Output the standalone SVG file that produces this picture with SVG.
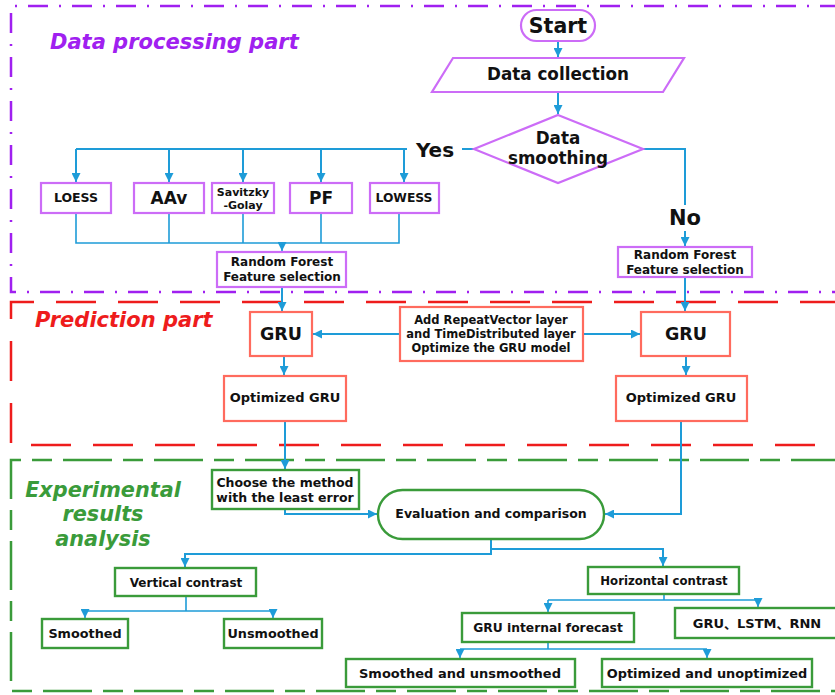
<svg xmlns="http://www.w3.org/2000/svg" width="835" height="695" viewBox="0 0 835 695">
<defs>
<marker id="ah" viewBox="0 0 10 10" refX="10" refY="5" markerWidth="9" markerHeight="9" markerUnits="userSpaceOnUse" orient="auto">
<path d="M0 0 L10 5 L0 10 Z" fill="#1E9CD8"/>
</marker>
<style>
text{font-family:"DejaVu Sans","Noto Sans CJK SC","Liberation Sans",sans-serif;font-weight:bold;fill:#111;text-anchor:middle}
.pn{fill:#fff;stroke:#CC6CF7;stroke-width:2.2}
.rn{fill:#fff;stroke:#FF6B5E;stroke-width:2.2}
.gn{fill:#fff;stroke:#3A9B3A;stroke-width:2.4}
.c{fill:none;stroke:#1E9CD8;stroke-width:2}
.t{fill:none;stroke:#1E9CD8;stroke-width:1.6}
.title{font-style:italic;font-size:21px;text-anchor:start}
</style>
</defs>

<g id="frames">
<path d="M840 6 H11 V292 H840" fill="none" stroke="#A020F0" stroke-width="2.5" stroke-dasharray="20 11 2 11"/>
<path d="M840 302 H11 V445 H840" fill="none" stroke="#EE1C1C" stroke-width="2.5" stroke-dasharray="40 22"/>
<path d="M840 460 H11 V691 H840" fill="none" stroke="#3A9B3A" stroke-width="2.5" stroke-dasharray="49 11 20 11"/>
<text class="title" x="50" y="49" style="fill:#A020F0">Data processing part</text>
<text class="title" x="35" y="327" style="fill:#EE1C1C">Prediction part</text>
<text x="103" y="497" style="fill:#3A9B3A;font-style:italic;font-size:20.8px">Experimental</text>
<text x="103" y="521" style="fill:#3A9B3A;font-style:italic;font-size:20.8px">results</text>
<text x="103" y="546" style="fill:#3A9B3A;font-style:italic;font-size:20.8px">analysis</text>
</g>

<g id="connectors">
<path class="c" d="M558 41 V57" marker-end="url(#ah)"/>
<path class="c" d="M558 92 V114" marker-end="url(#ah)"/>
<path class="c" d="M474 149 H462"/>
<path class="c" d="M407 149 H76"/>
<path class="c" d="M76 149 V182" marker-end="url(#ah)"/>
<path class="c" d="M169 149 V182" marker-end="url(#ah)"/>
<path class="c" d="M243 149 V182" marker-end="url(#ah)"/>
<path class="c" d="M321 149 V182" marker-end="url(#ah)"/>
<path class="c" d="M404 149 V182" marker-end="url(#ah)"/>
<path class="t" d="M76 213 V243 H399 V213 M169 213 V243 M243 213 V243 M321 213 V243"/>
<path class="t" d="M282 243 V251" marker-end="url(#ah)"/>
<path class="c" d="M643 149 H685 V205"/>
<path class="c" d="M685 231 V246" marker-end="url(#ah)"/>
<path class="c" d="M282 287 V311" marker-end="url(#ah)"/>
<path class="c" d="M685 277 V311" marker-end="url(#ah)"/>
<path class="c" d="M400 334 H313" marker-end="url(#ah)"/>
<path class="c" d="M583 334 H640" marker-end="url(#ah)"/>
<path class="c" d="M284 357 V375" marker-end="url(#ah)"/>
<path class="c" d="M686 357 V375" marker-end="url(#ah)"/>
<path class="c" d="M285 421 V469" marker-end="url(#ah)"/>
<path class="c" d="M285 510 V514 H377" marker-end="url(#ah)"/>
<path class="c" d="M681 421 V514 H605" marker-end="url(#ah)"/>
<path class="c" d="M491 539 V554 H185 V567" marker-end="url(#ah)"/>
<path class="c" d="M491 549 H663 V566" marker-end="url(#ah)"/>
<path class="t" d="M186 596 V611 M85 611 H273"/>
<path class="t" d="M85 611 V618" marker-end="url(#ah)"/>
<path class="t" d="M273 611 V618" marker-end="url(#ah)"/>
<path class="t" d="M664 594 V600 M548 600 H758"/>
<path class="t" d="M548 600 V612" marker-end="url(#ah)"/>
<path class="t" d="M758 600 V607" marker-end="url(#ah)"/>
<path class="t" d="M548 642 V649 M460 649 H707"/>
<path class="t" d="M460 649 V658" marker-end="url(#ah)"/>
<path class="t" d="M707 649 V658" marker-end="url(#ah)"/>
<text x="435" y="157" style="font-size:20px">Yes</text>
<text x="685" y="225" style="font-size:21px">No</text>
</g>

<g id="start">
<rect class="pn" x="521" y="10" width="74" height="31" rx="15.5"/>
<text x="558" y="33" style="font-size:20.5px">Start</text>
</g>
<g id="data-collection">
<polygon class="pn" points="453,58 684,58 663,92 432,92"/>
<text x="558" y="80" style="font-size:16.8px">Data collection</text>
</g>
<g id="data-smoothing">
<polygon class="pn" points="558,115 643,149 558,183 474,149"/>
<text x="558" y="144" style="font-size:16.8px">Data</text>
<text x="558" y="164" style="font-size:16.8px">smoothing</text>
</g>
<g id="loess">
<rect class="pn" x="41" y="183" width="70" height="30"/>
<text x="76" y="202" style="font-size:12.5px">LOESS</text>
</g>
<g id="aav">
<rect class="pn" x="134" y="183" width="70" height="30"/>
<text x="169" y="204" style="font-size:17px">AAv</text>
</g>
<g id="savitzky-golay">
<rect class="pn" x="212" y="183" width="62" height="30"/>
<text x="243" y="196" style="font-size:11px">Savitzky</text>
<text x="243" y="209" style="font-size:11px">-Golay</text>
</g>
<g id="pf">
<rect class="pn" x="290" y="183" width="62" height="30"/>
<text x="321" y="204" style="font-size:17px">PF</text>
</g>
<g id="lowess">
<rect class="pn" x="370" y="183" width="69" height="30"/>
<text x="404" y="202" style="font-size:12.3px">LOWESS</text>
</g>
<g id="rf-left">
<rect class="pn" x="217" y="252" width="129" height="35"/>
<text x="282" y="266" style="font-size:12px">Random Forest</text>
<text x="282" y="281" style="font-size:12px">Feature selection</text>
</g>
<g id="rf-right">
<rect class="pn" x="618" y="247" width="134" height="30"/>
<text x="685" y="259" style="font-size:12px">Random Forest</text>
<text x="685" y="274" style="font-size:12px">Feature selection</text>
</g>
<g id="gru-left">
<rect class="rn" x="250" y="312" width="62" height="44"/>
<text x="281" y="340" style="font-size:17.5px">GRU</text>
</g>
<g id="gru-right">
<rect class="rn" x="641" y="312" width="89" height="44"/>
<text x="686" y="340" style="font-size:17.5px">GRU</text>
</g>
<g id="optimize">
<rect class="rn" x="400" y="307" width="183" height="54"/>
<text x="491" y="324" style="font-size:11.5px">Add RepeatVector layer</text>
<text x="491" y="338" style="font-size:11.5px">and TimeDistributed layer</text>
<text x="491" y="352" style="font-size:11.5px">Optimize the GRU model</text>
</g>
<g id="opt-gru-left">
<rect class="rn" x="224" y="376" width="122" height="45"/>
<text x="285" y="402" style="font-size:13px">Optimized GRU</text>
</g>
<g id="opt-gru-right">
<rect class="rn" x="616" y="376" width="131" height="45"/>
<text x="681" y="402" style="font-size:13px">Optimized GRU</text>
</g>
<g id="choose">
<rect class="gn" x="212" y="470" width="147" height="39"/>
<text x="285" y="487" style="font-size:12.5px">Choose the method</text>
<text x="285" y="502" style="font-size:12.5px">with the least error</text>
</g>
<g id="evaluation">
<rect class="gn" x="378" y="490" width="226" height="49" rx="24.5"/>
<text x="491" y="518" style="font-size:12.5px">Evaluation and comparison</text>
</g>
<g id="vertical">
<rect class="gn" x="115" y="568" width="141" height="28"/>
<text x="186" y="587" style="font-size:12px">Vertical contrast</text>
</g>
<g id="horizontal">
<rect class="gn" x="588" y="567" width="151" height="27"/>
<text x="664" y="585" style="font-size:11.7px">Horizontal contrast</text>
</g>
<g id="smoothed">
<rect class="gn" x="42" y="619" width="86" height="29"/>
<text x="85" y="638" style="font-size:12.8px">Smoothed</text>
</g>
<g id="unsmoothed">
<rect class="gn" x="224" y="619" width="98" height="29"/>
<text x="273" y="638" style="font-size:12.8px">Unsmoothed</text>
</g>
<g id="gru-internal">
<rect class="gn" x="462" y="613" width="172" height="29"/>
<text x="548" y="632" style="font-size:12.3px">GRU internal forecast</text>
</g>
<g id="gru-lstm-rnn">
<rect class="gn" x="675" y="608" width="163" height="30"/>
<text x="757" y="628" style="font-size:13px">GRU、LSTM、RNN</text>
</g>
<g id="smoothed-unsmoothed">
<rect class="gn" x="346" y="659" width="229" height="28"/>
<text x="460" y="678" style="font-size:13px">Smoothed and unsmoothed</text>
</g>
<g id="optimized-unoptimized">
<rect class="gn" x="602" y="659" width="210" height="28"/>
<text x="707" y="678" style="font-size:12.9px">Optimized and unoptimized</text>
</g>
</svg>
